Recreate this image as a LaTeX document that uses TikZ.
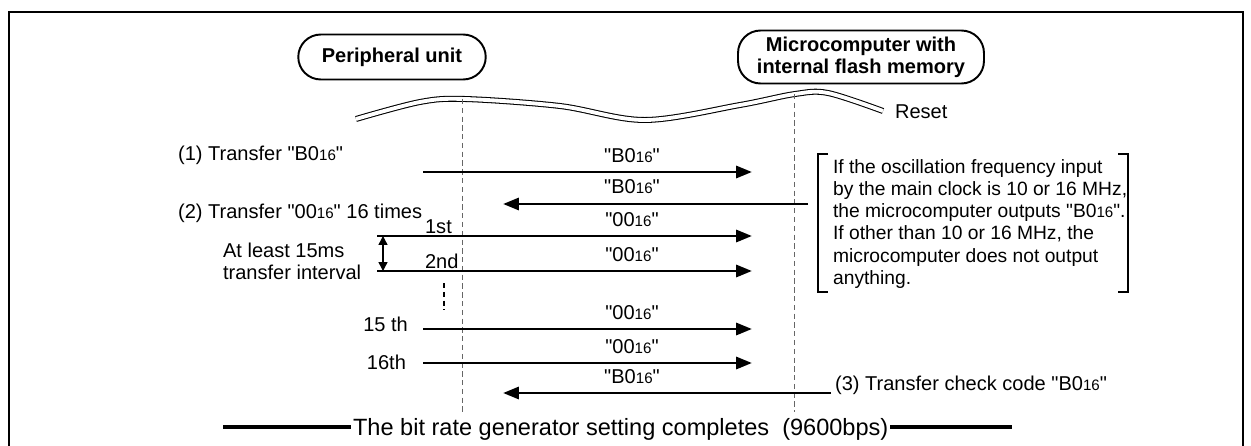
\documentclass[tikz,border=0pt]{standalone}
\usepackage{fontspec}
\setmainfont{Liberation Sans}[Ligatures=TeXOff]
\usetikzlibrary{arrows.meta, positioning}
\newcommand{\hexval}[1]{#1{\fontsize{8.6}{9}\selectfont 16}}
\tikzset{
    unit/.style={rectangle, rounded corners=0.45cm, draw=black, line width=1.1pt, align=center, font=\bfseries\fontsize{11.4}{12.6}\selectfont},
    msg/.style={line width=1.7pt, -{Triangle[length=9pt,width=6.8pt]}},
    lifeline/.style={draw=black!60, line width=0.4pt, dash pattern=on 3pt off 2pt},
    txt/.style={font=\fontsize{11.4}{12.7}\selectfont, inner sep=1pt},
    bar/.style={line width=2.8pt}
}

\begin{document}
\begin{tikzpicture}[x=0.02cm, y=-0.02cm,
        msglbl/.style={txt, anchor=base},
        note/.style={line width=0.6pt},
        gap/.style={line width=0.6pt}
    ]
    \useasboundingbox (0,0) rectangle (1251,446);
    % Frame
    \draw[line width=1.5pt] (9,446) -- (9,12) -- (1243,12) -- (1243,446);

    % Units and reset line
    \node[unit, minimum width=3.75cm, minimum height=0.9cm] (periph) at (392,57) {Peripheral unit};
    \node[unit, minimum width=4.92cm, minimum height=1.06cm] (mcu) at (861,57) {Microcomputer with\\internal flash memory};
    \draw[double, double distance=2.2pt, line width=0.6pt] plot[smooth, tension=0.55] coordinates {(356,119) (420,102) (465,99) (560,106) (645,120) (740,105) (795,94) (828,93) (883,111)};
    \node[txt, anchor=west] (reset) at (893,112) {Reset};

    % Lifelines
    \coordinate (ptop) at (462,99);
    \coordinate (pbot) at (462,412);
    \coordinate (mtop) at (794,94);
    \coordinate (mbot) at (794,412);
    \draw[lifeline] (ptop) -- (pbot);
    \draw[lifeline] (mtop) -- (mbot);

    % (1) Transfer B0
    \node[txt, anchor=base west] (step1) at (176,160) {(1) Transfer "\hexval{B0}"};
    \coordinate (s1) at (423,172);
    \coordinate (e1) at (752,172);
    \draw[msg] (s1) -- (e1);
    \node[msglbl] (l1) at (632,162) {"\hexval{B0}"};
    \coordinate (s2) at (808,204);
    \coordinate (e2) at (503,204);
    \draw[msg] (s2) -- (e2);
    \node[msglbl] (l2) at (632,194) {"\hexval{B0}"};

    % (2) Transfer 00 sixteen times
    \node[txt, anchor=base west] (step2) at (176,218) {(2) Transfer "\hexval{00}" 16 times};
    \coordinate (s3) at (423,236);
    \coordinate (e3) at (752,236);
    \draw[msg] (s3) -- (e3);
    \node[msglbl] (l3) at (632,226) {"\hexval{00}"};
    \node[txt, anchor=base west] (first) at (423,233) {1st};
    \coordinate (s4) at (423,271);
    \coordinate (e4) at (752,271);
    \draw[msg] (s4) -- (e4);
    \node[msglbl] (l4) at (632,261) {"\hexval{00}"};
    \node[txt, anchor=base west] (second) at (423,268) {2nd};

    % transfer interval
    \coordinate (g1) at (377,236);
    \coordinate (g2) at (377,271);
    \draw[gap] (g1) -- (s3);
    \draw[gap] (g2) -- (s4);
    \draw[line width=0.8pt, {Triangle[length=5pt,width=5pt]}-{Triangle[length=5pt,width=5pt]}] (383,236) -- (383,271);
    \node[txt, anchor=north west, align=left] (interval) at (221,241) {At least 15ms\\transfer interval};
    \draw[line width=1pt, dash pattern=on 3pt off 2pt] (444,283) -- (444,310);

    \coordinate (s5) at (423,329);
    \coordinate (e5) at (752,329);
    \draw[msg] (s5) -- (e5);
    \node[msglbl] (l5) at (632,319) {"\hexval{00}"};
    \node[txt, anchor=base east] (fifteenth) at (410,331) {15 th};
    \coordinate (s6) at (423,363);
    \coordinate (e6) at (752,363);
    \draw[msg] (s6) -- (e6);
    \node[msglbl] (l6) at (632,353) {"\hexval{00}"};
    \node[txt, anchor=base east] (sixteenth) at (408,369) {16th};

    % (3) Transfer check code
    \node[txt, anchor=base west] (step3) at (833,390) {(3) Transfer check code "\hexval{B0}"};
    \coordinate (s7) at (831,393);
    \coordinate (e7) at (503,393);
    \draw[msg] (s7) -- (e7);
    \node[msglbl] (l7) at (632,383) {"\hexval{B0}"};

    % Note on the microcomputer answer
    \draw[note] (828,154) -- (818,154) -- (818,292) -- (828,292);
    \draw[note] (1118,154) -- (1128,154) -- (1128,292) -- (1118,292);
    \node[txt, anchor=north west, align=left, font=\fontsize{10.95}{12.7}\selectfont] (answer) at (831,157) {If the oscillation frequency input\\by the main clock is 10 or 16 MHz,\\the microcomputer outputs "\hexval{B0}".\\If other than 10 or 16 MHz, the\\microcomputer does not output\\anything.};

    % Setting complete
    \node[txt, anchor=base west, font=\fontsize{13.4}{15}\selectfont] (done) at (351,435) {The bit rate generator setting completes\ \ (9600bps)};
    \coordinate (barl) at (223,427);
    \coordinate (barr) at (1012,427);
    \draw[bar] (barl) -- (barl -| done.west);
    \draw[bar] (barr -| done.east) -- (barr);
\end{tikzpicture}
\end{document}
